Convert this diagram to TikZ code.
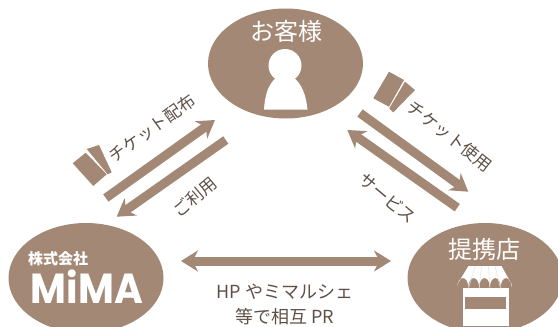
\documentclass[tikz,border=0pt]{standalone}
\usepackage{fontspec}
\setmainfont{Noto Sans CJK JP}
\newfontfamily\logofont{Poppins}
\usetikzlibrary{arrows.meta,shapes.geometric}
\definecolor{mocha}{HTML}{A38975}
\definecolor{inkbrown}{HTML}{5F5047}
\tikzset{
	party/.style={ellipse,fill=mocha,minimum width=155pt,minimum height=110pt,inner sep=0pt},
	chevron/.tip={Stealth[length=17pt,width=21pt,inset=5.5pt]},
	brownarrow/.style={draw=mocha,line width=9pt,-chevron},
	caption/.style={text=inkbrown,font=\fontsize{17}{17}\selectfont,inner sep=0pt},
	prline/.style={text=inkbrown,font=\fontsize{18}{18}\selectfont,inner sep=0pt},
	partyname/.style={text=white,font=\fontsize{24}{24}\selectfont,inner sep=0pt}
}

\begin{document}
\begin{tikzpicture}[x=1pt,y=-1pt]
	%%%%% START %%%%%
	\useasboundingbox (0, 0) rectangle (558, 327);
	\clip (0, 0) rectangle (558, 327);

	\node[party] (guest) at (285.5, 63.5) {};
	\node[party] (mima) at (86, 278) {};
	\node[party] (shop) at (485, 278) {};

	\node[partyname] (guestname) at (286, 31) {お客様};
	\node[partyname] (shopname) at (484, 249) {提携店};
	\node[text=white,font=\bfseries\fontsize{15}{15}\selectfont,inner sep=0pt] (mimacorp) at (58, 259) {株式会社};
	\node[text=white,font=\logofont\bfseries\fontsize{42}{42}\selectfont,inner sep=0pt,xscale=0.93] (mimalogo) at (87, 287) {MiMA};

	% person
	\fill[white] (285, 65.5) circle (16.5);
	\fill[white] (264, 109.5) .. controls (265, 95) and (268, 84) .. (277, 77) -- (293, 77) .. controls (302, 84) and (306, 95) .. (307.5, 109.5) -- cycle;

	% storefront
	\fill[white] (462.5, 288) rectangle (508.5, 325.5);
	\fill[mocha] (465, 296.5) rectangle (505.5, 309);
	\fill[white] (468.5, 266) -- (501.5, 266) -- (511.5, 284) -- (511.5, 287)
		\foreach \n in {1,...,5} {arc[start angle=0,end angle=-180,x radius=5.4,y radius=9]} -- (457.5, 284) -- cycle;
	\foreach \xt/\xb in {475/468.3, 481.5/479.1, 488.5/489.9, 495/500.7}
		\draw[mocha!25,line width=0.5pt] (\xt, 266) -- (\xb, 289);

	% tickets
	\fill[mocha] (72.7, 163.3) -- (85.7, 152.7) -- (106.7, 174.3) -- (93.3, 186) -- cycle;
	\fill[mocha] (86.7, 149) -- (99, 145) -- (111.7, 172.3) -- (107.7, 174.3) -- cycle;
	\fill[mocha] (373.3, 98.3) -- (389, 71.7) -- (404, 80) -- (389, 106.7) -- cycle;
	\fill[mocha] (405, 81.7) -- (415, 90) -- (393.3, 112.3) -- (389.3, 108.3) -- cycle;

	\coordinate (handoutstart) at (105.8, 198);
	\coordinate (handoutend) at (215, 120);
	\coordinate (usagestart) at (225.8, 140);
	\coordinate (usageend) at (116.7, 216.7);
	\coordinate (ticketstart) at (360, 113);
	\coordinate (ticketend) at (468.3, 191.7);
	\coordinate (servicestart) at (457.3, 207.7);
	\coordinate (serviceend) at (347.3, 130);
	\coordinate (prleft) at (181, 261);
	\coordinate (prright) at (391, 261);

	\draw[brownarrow] (handoutstart) -- (handoutend);
	\draw[brownarrow] (usagestart) -- (usageend);
	\draw[brownarrow] (ticketstart) -- (ticketend);
	\draw[brownarrow] (servicestart) -- (serviceend);
	\draw[brownarrow,chevron-chevron] (prleft) -- (prright);

	\node[caption,rotate=36] (handoutlabel) at (152, 128) {チケット配布};
	\node[caption,rotate=40] (usagelabel) at (195, 197) {ご利用};
	\node[caption,rotate=-38] (ticketlabel) at (450, 136) {チケット使用};
	\node[caption,rotate=-40] (servicelabel) at (388, 198) {サービス};
	\node[prline] (prlineone) at (285, 292) {HP やミマルシェ};
	\node[prline] (prlinetwo) at (285, 317) {等で相互 PR};
	%%%%% END %%%%%
\end{tikzpicture}
\end{document}
